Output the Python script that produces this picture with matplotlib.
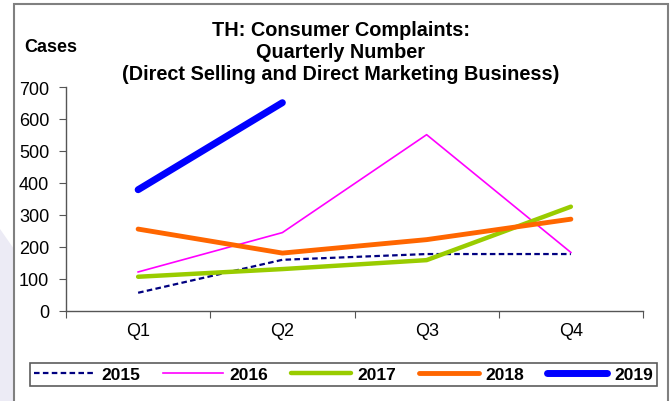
import matplotlib
matplotlib.use("Agg")
import matplotlib.pyplot as plt
from matplotlib.patches import Rectangle, Polygon
import numpy as np

quarters = ["Q1", "Q2", "Q3", "Q4"]
years = ["2015", "2016", "2017", "2018", "2019"]
v2015 = [57, 160, 178, 178]
v2016 = [122, 245, 551, 183]
v2017 = [107, 131, 159, 326]
v2018 = [256, 181, 223, 287]
v2019 = [379, 651]
yticks = [0, 100, 200, 300, 400, 500, 600, 700]

plt.rcParams['font.family'] = ['Liberation Sans', 'DejaVu Sans']

W, H = 672, 402
fig = plt.figure(figsize=(W / 100, H / 100), dpi=100)

# faint slide background on the left
bg = fig.add_axes([0, 0, 1, 1], zorder=-5)
bg.set_xlim(0, W); bg.set_ylim(H, 0); bg.axis('off')
bg.add_patch(Polygon([[0, 230], [14, 250], [14, 402], [0, 402]], closed=True,
                     facecolor='#ecebf5', edgecolor='none'))
# outer chart frame
bg.add_patch(Rectangle((14, 5), 654, 420, facecolor='white', edgecolor='#808080', lw=1.5))

ax = fig.add_axes([66 / W, 1 - 312 / H, (643 - 66) / W, (312 - 88) / H])
ax.set_facecolor('none')
x = np.arange(len(quarters))

ax.plot(x, v2015, color='#000080', lw=1.6, ls=(0, (2.5, 1.5)), label=years[0])
ax.plot(x, v2016, color='#ff00ff', lw=1.2, label=years[1])
ax.plot(x, v2017, color='#99cc00', lw=3.2, label=years[2], solid_capstyle='round')
ax.plot(x, v2018, color='#ff6600', lw=3.5, label=years[3], solid_capstyle='round')
ax.plot(x[:len(v2019)], v2019, color='#0000ff', lw=5.0, label=years[4], solid_capstyle='round')

ax.set_xlim(-0.5, len(quarters) - 0.5)
ax.set_ylim(0, 700)
ax.set_yticks(yticks)
ax.set_yticklabels([str(t) for t in yticks], fontsize=13)
ax.set_xticks(np.arange(-0.5, len(quarters), 1.0))
ax.set_xticklabels([])
ax.set_xticks(x, minor=True)
ax.set_xticklabels(quarters, minor=True, fontsize=13)
ax.tick_params(axis='x', which='minor', length=0, pad=8)
ax.tick_params(axis='x', which='major', length=5, direction='out', color='#555555')
ax.tick_params(axis='y', length=5, direction='out', color='#555555', pad=7)
for s in ['top', 'right']:
    ax.spines[s].set_visible(False)
for s in ['left', 'bottom']:
    ax.spines[s].set_color('#555555')
    ax.spines[s].set_linewidth(1.0)

fig.text(341 / W, 1 - 52 / H,
         "TH: Consumer Complaints:\nQuarterly Number\n(Direct Selling and Direct Marketing Business)",
         ha='center', va='center', fontsize=14.3, fontweight='bold', linespacing=1.2)
fig.text(24 / W, 1 - 47 / H, "Cases", ha='left', va='center', fontsize=13, fontweight='bold')

leg = fig.legend(loc='center', bbox_to_anchor=((30 + 657) / 2 / W, 1 - 375.5 / H), ncol=5,
                 frameon=True, fancybox=False, edgecolor='#333333',
                 prop={'weight': 'bold', 'size': 12.5}, handlelength=3.45, columnspacing=1.3,
                 handletextpad=0.4, borderpad=0.25)
leg.get_frame().set_linewidth(1.2)

fig.savefig("out.png", dpi=100)
